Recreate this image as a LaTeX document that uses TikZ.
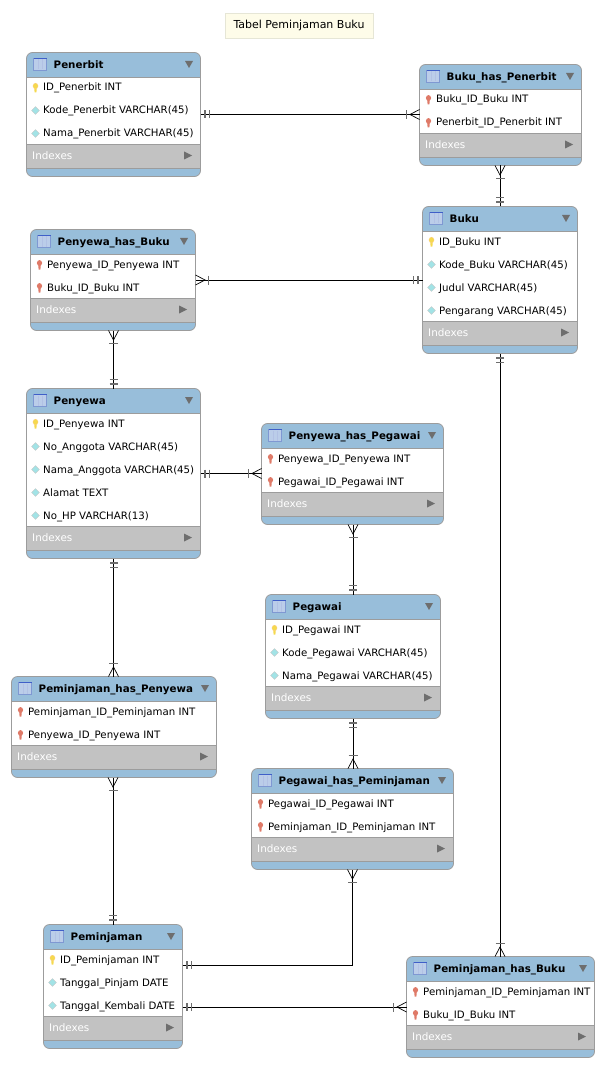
\documentclass[tikz,border=0pt]{standalone}
\usepackage{fontspec}
\setmainfont{DejaVu Sans}
\usetikzlibrary{arrows.meta}

\definecolor{headblue}{HTML}{98BEDA}
\definecolor{edgegray}{HTML}{9C9C9C}
\definecolor{indexgray}{HTML}{C2C2C2}
\definecolor{markgray}{HTML}{6E6E6E}
\definecolor{notefill}{HTML}{FEFCE9}
\definecolor{noteedge}{HTML}{E6E6D6}
\definecolor{keyyellow}{HTML}{F5D94E}
\definecolor{keyred}{HTML}{DF7A68}
\definecolor{diamondfill}{HTML}{A2E3E6}
\definecolor{iconfill}{HTML}{BBCDE9}
\definecolor{iconedge}{HTML}{7F98D2}
\definecolor{icontop}{HTML}{3F5FC8}

% two bars next to the table
\pgfdeclarearrow{
  name=TwoBar,
  setup code={\pgfarrowssettipend{0pt}\pgfarrowssetlineend{0pt}\pgfarrowssetvisualbackend{-10pt}},
  drawing code={
    \pgfsetlinewidth{1.3pt}\pgfsetstrokecolor{markgray}
    \pgfpathmoveto{\pgfqpoint{-4.5pt}{-4pt}}\pgfpathlineto{\pgfqpoint{-4.5pt}{4pt}}
    \pgfpathmoveto{\pgfqpoint{-9pt}{-4pt}}\pgfpathlineto{\pgfqpoint{-9pt}{4pt}}
    \pgfusepathqstroke
  }
}
% bar and crow's foot
\pgfdeclarearrow{
  name=CrowBar,
  setup code={\pgfarrowssettipend{0pt}\pgfarrowssetlineend{0pt}\pgfarrowssetvisualbackend{-13pt}},
  drawing code={
    \pgfsetlinewidth{0.7pt}
    \pgfpathmoveto{\pgfqpoint{0pt}{5pt}}\pgfpathlineto{\pgfqpoint{-9.5pt}{0pt}}\pgfpathlineto{\pgfqpoint{0pt}{-5pt}}
    \pgfusepathqstroke
    \pgfsetlinewidth{1.3pt}\pgfsetstrokecolor{markgray}
    \pgfpathmoveto{\pgfqpoint{-13pt}{-4.5pt}}\pgfpathlineto{\pgfqpoint{-13pt}{4.5pt}}
    \pgfusepathqstroke
  }
}

\tikzset{
  tbl/.style={draw=edgegray, fill=headblue, rounded corners=6pt, line width=0.8pt, inner sep=0pt, outer sep=0pt, anchor=north west},
  tbltitle/.style={font=\fontsize{10.3}{12}\selectfont\bfseries, anchor=base west, inner sep=0pt},
  tblrow/.style={font=\fontsize{10.2}{12}\selectfont, anchor=base west, inner sep=0pt},
  tblindex/.style={font=\fontsize{10.4}{12}\selectfont, text=white, anchor=base west, inner sep=0pt},
  rel/.style={line width=0.9pt},
  pk/.pic={
    \fill[keyyellow] (-1.3,0) -- (1.3,0) -- (0.9,5) -- (-0.9,5) -- cycle;
    \fill[keyyellow, draw=orange!40, line width=0.2pt] (0,-1.5) ellipse (2.6 and 2.9);
  },
  fk/.pic={
    \fill[keyred] (-1.3,0) -- (1.3,0) -- (0.9,5) -- (-0.9,5) -- cycle;
    \fill[keyred] (0,-1.5) ellipse (2.6 and 2.9);
  },
  col/.pic={
    \fill[diamondfill, draw=gray!45, line width=0.3pt] (-3.9,0) -- (0,-3.9) -- (3.9,0) -- (0,3.9) -- cycle;
  }
}

% name, left, top, width, number of rows, title, rows
\newcommand{\erdtable}[7]{
  \begin{scope}[shift={(#2,#3)}]
    \pgfmathsetmacro{\rowsend}{23+23*#5}
    \pgfmathsetmacro{\tblhgt}{55+23*#5}
    \node[tbl, minimum width=#4pt, minimum height=\tblhgt pt] (#1) at (0,0) {};
    \fill[white] (0.4,25) rectangle (#4-0.4,\rowsend);
    \fill[indexgray] (0.4,\rowsend) rectangle (#4-0.4,\rowsend+24);
    \draw[edgegray, line width=0.7pt] (0,25) -- (#4,25) (0,\rowsend) -- (#4,\rowsend) (0,\rowsend+24) -- (#4,\rowsend+24);
    % icon and triangles
    \draw[iconedge, fill=iconfill, line width=0.7pt] (7,5.5) rectangle (20,18);
    \draw[icontop, line width=0.9pt] (7,5.5) -- (20,5.5);
    \draw[iconedge!60!white, line width=0.4pt] (11.3,7) -- (11.3,17) (15.7,7) -- (15.7,17);
    \node[tbltitle] (#1-title) at (27,16) {#6};
    \fill[markgray] (#4-15.5,8.5) -- (#4-7.5,8.5) -- (#4-11.5,15.5) -- cycle;
    \foreach \ty/\txt [count=\i] in {#7}{
      \pgfmathsetmacro{\yy}{12+23*\i}
      \pic at (9,\yy) {\ty};
      \node[tblrow] (#1-\i) at (16.5,\yy+3.5) {\txt};
    }
    \node[tblindex] (#1-index) at (5.5,\rowsend+15) {Indexes};
    \fill[markgray] (#4-16.5,\rowsend+7) -- (#4-8.5,\rowsend+11) -- (#4-16.5,\rowsend+15) -- cycle;
  \end{scope}
}

\begin{document}
\begin{tikzpicture}[x=1pt, y=-1pt]
  \useasboundingbox (0,0) rectangle (604,1067);

  \node[draw=noteedge, fill=notefill, minimum width=148pt, minimum height=25pt, inner sep=0pt, font=\fontsize{11}{13}\selectfont] (note) at (299,25.5) {Tabel Peminjaman Buku};

  \erdtable{penerbit}{26.5}{52.5}{174}{3}{Penerbit}{pk/ID\_Penerbit INT, col/Kode\_Penerbit VARCHAR(45), col/Nama\_Penerbit VARCHAR(45)}
  \erdtable{bukuPenerbit}{419.5}{64.5}{162}{2}{Buku\_has\_Penerbit}{fk/Buku\_ID\_Buku INT, fk/Penerbit\_ID\_Penerbit INT}
  \erdtable{buku}{422.5}{206.5}{155}{4}{Buku}{pk/ID\_Buku INT, col/Kode\_Buku VARCHAR(45), col/Judul VARCHAR(45), col/Pengarang VARCHAR(45)}
  \erdtable{penyewaBuku}{30.5}{229.5}{165}{2}{Penyewa\_has\_Buku}{fk/Penyewa\_ID\_Penyewa INT, fk/Buku\_ID\_Buku INT}
  \erdtable{penyewa}{26.5}{388.5}{174}{5}{Penyewa}{pk/ID\_Penyewa INT, col/No\_Anggota VARCHAR(45), col/Nama\_Anggota VARCHAR(45), col/Alamat TEXT, col/No\_HP VARCHAR(13)}
  \erdtable{penyewaPegawai}{261.5}{423.5}{182}{2}{Penyewa\_has\_Pegawai}{fk/Penyewa\_ID\_Penyewa INT, fk/Pegawai\_ID\_Pegawai INT}
  \erdtable{pegawai}{265.5}{594.5}{175}{3}{Pegawai}{pk/ID\_Pegawai INT, col/Kode\_Pegawai VARCHAR(45), col/Nama\_Pegawai VARCHAR(45)}
  \erdtable{pinjamPenyewa}{11.5}{676.5}{205}{2}{Peminjaman\_has\_Penyewa}{fk/Peminjaman\_ID\_Peminjaman INT, fk/Penyewa\_ID\_Penyewa INT}
  \erdtable{pegawaiPinjam}{251.5}{768.5}{202}{2}{Pegawai\_has\_Peminjaman}{fk/Pegawai\_ID\_Pegawai INT, fk/Peminjaman\_ID\_Peminjaman INT}
  \erdtable{peminjaman}{43.5}{924.5}{139}{3}{Peminjaman}{pk/ID\_Peminjaman INT, col/Tanggal\_Pinjam DATE, col/Tanggal\_Kembali DATE}
  \erdtable{pinjamBuku}{406.5}{956.5}{188}{2}{Peminjaman\_has\_Buku}{fk/Peminjaman\_ID\_Peminjaman INT, fk/Buku\_ID\_Buku INT}

  \draw[rel, TwoBar-CrowBar] (penerbit.east) -- (penerbit.east -| bukuPenerbit.west);
  \draw[rel, TwoBar-CrowBar] (buku.north) -- (buku.north |- bukuPenerbit.south);
  \draw[rel, TwoBar-CrowBar] (buku.west) -- (buku.west -| penyewaBuku.east);
  \draw[rel, TwoBar-CrowBar] (penyewa.north) -- (penyewa.north |- penyewaBuku.south);
  \draw[rel, TwoBar-CrowBar] (penyewa.east) -- (penyewa.east -| penyewaPegawai.west);
  \draw[rel, TwoBar-CrowBar] (pegawai.north) -- (pegawai.north |- penyewaPegawai.south);
  \draw[rel, TwoBar-CrowBar] (pegawai.south) -- (pegawai.south |- pegawaiPinjam.north);
  \draw[rel, TwoBar-CrowBar] (penyewa.south) -- (penyewa.south |- pinjamPenyewa.north);
  \draw[rel, TwoBar-CrowBar] (peminjaman.north) -- (peminjaman.north |- pinjamPenyewa.south);
  \draw[rel, TwoBar-CrowBar] ([yshift=21.5pt]peminjaman.east) -| (pegawaiPinjam.south);
  \draw[rel, TwoBar-CrowBar] (peminjaman.east |- pinjamBuku.west) -- (pinjamBuku.west);
  \draw[rel, TwoBar-CrowBar] (buku.south) -- (buku.south |- pinjamBuku.north);
\end{tikzpicture}
\end{document}
